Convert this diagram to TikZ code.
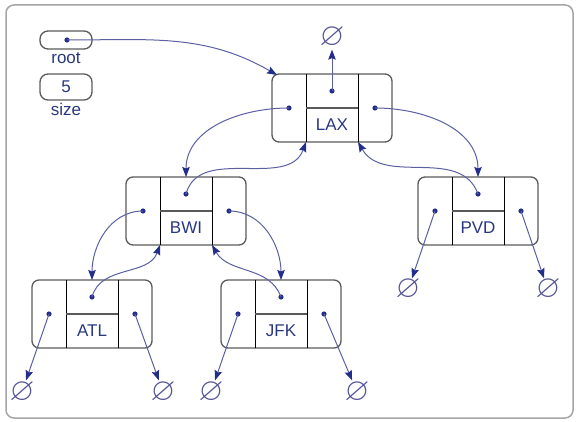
\documentclass[tikz,border=0pt]{standalone}
\usepackage{amssymb}
\usepackage{fontspec}
\setmainfont{Liberation Sans}
\usepackage{xcolor}
\usetikzlibrary{arrows.meta,calc}
\definecolor{navy}{RGB}{35,45,140}
\definecolor{linkblue}{RGB}{90,95,162}
\definecolor{textblue}{RGB}{40,55,130}
\definecolor{boxgray}{RGB}{90,90,90}
\definecolor{framegray}{RGB}{165,165,165}
\definecolor{nullblue}{RGB}{85,85,150}

\begin{document}
\begin{tikzpicture}[x=1pt, y=1pt,
    >={Stealth[length=10pt,width=7.5pt,inset=1.5pt,color=navy]},
    record/.style={draw=boxgray, line width=1.3pt, rounded corners=7pt,
      minimum width=120pt, minimum height=68pt, inner sep=0pt},
    varbox/.style={draw=boxgray, line width=1.3pt, rounded corners=8pt,
      minimum width=52pt, inner sep=0pt},
    lbl/.style={text=textblue, font=\fontsize{17}{19}\selectfont},
    nullptr/.style={inner sep=0pt, outer sep=1pt, text=nullblue,
      font=\fontsize{32}{32}\selectfont},
    link/.style={->, draw=linkblue, line width=1pt}]
    \useasboundingbox (0,0) rectangle (579,-422);
    % outer frame
    \draw[framegray, line width=1.5pt, rounded corners=8pt] (6,-5) rectangle (573,-418);
    % root and size
    \node[varbox, minimum height=18pt] (root) at (66,-40) {};
    \coordinate (root-p) at (67,-40);
    \fill[navy] (root-p) circle (2.6pt);
    \node[lbl] (rootlbl) at (66,-58) {root};
    \node[varbox, lbl, minimum height=26pt] (size) at (66,-87) {5};
    \node[lbl] (sizelbl) at (66,-109) {size};
    % tree nodes
    \foreach \nm/\cx/\cy in {LAX/332/-108, BWI/186/-211, PVD/478/-211,
                             ATL/92/-314, JFK/281/-314}{%
      \node[record] (\nm) at (\cx,\cy) {};
      \draw[line width=1pt] (\cx-26,\cy+34) -- (\cx-26,\cy-34);
      \draw[line width=1pt] (\cx+26,\cy+34) -- (\cx+26,\cy-34);
      \draw[boxgray, line width=1.1pt] (\cx-26,\cy) -- (\cx+26,\cy);
      \node[lbl] (\nm-key) at (\cx,\cy-17) {\nm};
      \coordinate (\nm-l) at (\cx-43,\cy);
      \coordinate (\nm-t) at (\cx,\cy+17);
      \coordinate (\nm-r) at (\cx+43,\cy);
      \coordinate (\nm-in) at (\cx,\cy+34);
      \coordinate (\nm-bl) at (\cx-26,\cy-34);
      \coordinate (\nm-br) at (\cx+26,\cy-34);
      \foreach \d in {l,t,r}{\fill[navy] (\nm-\d) circle (2.6pt);}
    }
    % null pointers
    \foreach \nm/\x/\y in {LAX-n/332/-38, ATL-nl/22/-392, ATL-nr/163/-392,
                           JFK-nl/211/-392, JFK-nr/357/-392,
                           PVD-nl/408/-290, PVD-nr/548/-290}{%
      \node[nullptr] (\nm) at (\x,\y) {$\varnothing$};}
    % links
    \coordinate (LAX-c) at (277,-75);
    \draw[link] (root-p) to[out=0,in=150] (LAX-c);
    \draw[link] (LAX-t) -- (LAX-n);
    \draw[link] (LAX-l) to[out=180,in=90] (BWI-in);
    \draw[link] (BWI-t) to[out=75,in=-110] (LAX-bl);
    \draw[link] (LAX-r) to[out=0,in=90] (PVD-in);
    \draw[link] (PVD-t) to[out=110,in=-60] (LAX-br);
    \draw[link] (BWI-l) to[out=180,in=90] (ATL-in);
    \draw[link] (ATL-t) to[out=75,in=-110] (BWI-bl);
    \draw[link] (BWI-r) to[out=0,in=90] (JFK-in);
    \draw[link] (JFK-t) to[out=110,in=-60] (BWI-br);
    \foreach \nm in {ATL,JFK,PVD}{%
      \draw[link] (\nm-l) -- (\nm-nl);
      \draw[link] (\nm-r) -- (\nm-nr);}
  \end{tikzpicture}
\end{document}
